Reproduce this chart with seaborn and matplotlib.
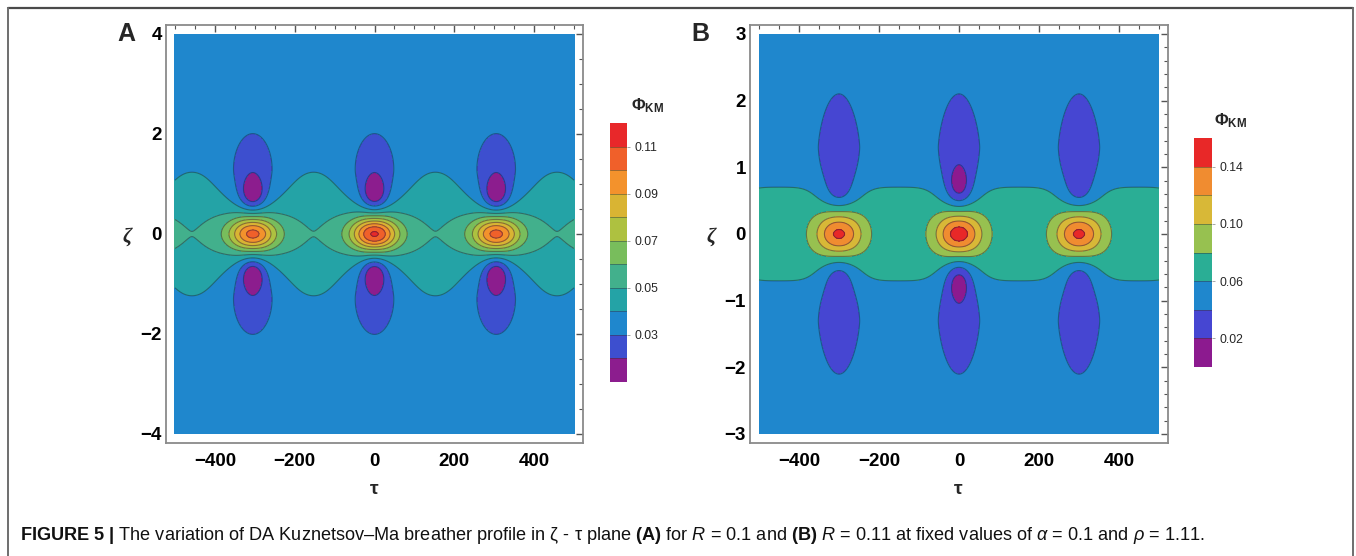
import numpy as np
import matplotlib
matplotlib.use("Agg")
import matplotlib.pyplot as plt
import seaborn as sns
from matplotlib.lines import Line2D
from matplotlib.ticker import MultipleLocator

W, H = 1356, 556

# ---------------- values ----------------
tau_limits = [-500, 500]
zeta_limits_A = [-4, 4]
zeta_limits_B = [-3, 3]

# panel A  (R = 0.1)
crest_tau_A = [-610, -305, 0, 305, 610]
crest_amp_A = [0.056, 0.056, 0.064, 0.056, 0.056]
hole_amp_A = [0.020, 0.020, 0.020, 0.020, 0.020]       # deep (purple) part of the side dips
background_A = 0.035
band_A = [0.0097, 1.67, 2.0, 95]       # amplitude, zeta width, exponent, tau gap at crests
crest_width_A = [58, 0.35]             # tau width, zeta width
halo_A = [0.0142, 135, 0.7, 3]         # amplitude, tau width, zeta width, tau exponent
lobe_A = [0.012, 62, 1.25, 0.82, 1.7]  # amplitude, tau width, zeta centre, zeta width, exponent
hole_shape_A = [30, 0.80, 0.33]        # tau width, zeta centre, zeta width
levels_A = [0.01, 0.02, 0.03, 0.04, 0.05, 0.06, 0.07, 0.08, 0.09, 0.10, 0.11, 0.12]
cbar_ticks_A = [0.03, 0.05, 0.07, 0.09, 0.11]
colors_A = ['#8c1d8e', '#3d4fcf', '#1f87cd', '#24a3a6', '#42b08c', '#78bd5c',
            '#aec140', '#d9b433', '#f3922c', '#f0602a', '#e8282a']

# panel B  (R = 0.11)
crest_tau_B = [-600, -300, 0, 300, 600]
crest_amp_B = [0.098, 0.098, 0.104, 0.098, 0.098]
hole_amp_B = [0.012, 0.012, 0.028, 0.012, 0.012]
background_B = 0.05
band_B = [0.02, 0.77, 4.0, 50]
crest_width_B = [56, 0.35]
halo_B = [0.0, 100, 0.6, 2]
lobe_B = [0.025, 54, 1.30, 0.85, 1.5]
hole_shape_B = [28, 0.74, 0.28]
levels_B = [0.00, 0.02, 0.04, 0.06, 0.08, 0.10, 0.12, 0.14, 0.16]
cbar_ticks_B = [0.02, 0.06, 0.10, 0.14]
colors_B = ['#8c1a8f', '#4646d2', '#1f87cd', '#2aae95', '#97c150', '#d8b837',
            '#f08c30', '#e82828']

caption = (r"$\mathbf{FIGURE\ 5\ |}$ The variation of DA Kuznetsov–Ma breather profile in "
           r"ζ - τ plane $\mathbf{(A)}$ for $\mathit{R}$ = 0.1 and $\mathbf{(B)}$ $\mathit{R}$ = 0.11 "
           r"at fixed values of $\mathit{α}$ = 0.1 and $\mathit{ρ}$ = 1.11.")

# ---------------- style ----------------
sns.set_theme(style="white")
plt.rcParams['font.family'] = ['Liberation Sans', 'DejaVu Sans']
plt.rcParams['mathtext.fontset'] = 'custom'
plt.rcParams['mathtext.rm'] = 'Liberation Sans'
plt.rcParams['mathtext.it'] = 'Liberation Sans:italic'
plt.rcParams['mathtext.bf'] = 'Liberation Sans:bold'


def field(tau, zeta, base, band, ctau, camp, cw, halo, lobe, hamp, hshape, levels):
    T, Z = np.meshgrid(tau, zeta)
    az = np.abs(Z)
    gap = np.zeros_like(T)
    for tk in ctau:
        gap = gap + np.exp(-((T - tk) / band[3]) ** 2)
    F = base + band[0] * np.clip(1 - gap, 0, 1) * np.exp(-(az / band[1]) ** band[2])
    for tk, a, d2 in zip(ctau, camp, hamp):
        dt = T - tk
        F = F + a * np.exp(-(dt / cw[0]) ** 2 - (Z / cw[1]) ** 2)
        F = F + halo[0] * np.exp(-np.abs(dt / halo[1]) ** halo[3] - (Z / halo[2]) ** 2)
        F = F - lobe[0] * np.exp(-(dt / lobe[1]) ** 2 - np.abs((az - lobe[2]) / lobe[3]) ** lobe[4])
        F = F - d2 * np.exp(-(dt / hshape[0]) ** 2 - ((az - hshape[1]) / hshape[2]) ** 2)
    eps = 1e-6
    return T, Z, np.clip(F, levels[0] + eps, levels[-1] - eps)


def px(x, y):
    return x / W, 1 - y / H


fig = plt.figure(figsize=(W / 100, H / 100), dpi=100)


def panel(frame, zlim, ymaj, ymin, base, band, ctau, camp, cw, halo, lobe, hamp, hshape,
          levels, colors, cbar_box, cticks, letter, letter_xy, zeta_xy, tau_xy, title_xy):
    l, t, r, b = frame
    ax = fig.add_axes([l / W, 1 - b / H, (r - l) / W, (b - t) / H])
    tau = np.linspace(tau_limits[0], tau_limits[1], 601)
    zeta = np.linspace(zlim[0], zlim[1], 601)
    T, Z, F = field(tau, zeta, base, band, ctau, camp, cw, halo, lobe, hamp, hshape, levels)
    pal = sns.color_palette(colors)
    cf = ax.contourf(T, Z, F, levels=levels, colors=pal)
    ax.contour(T, Z, F, levels=levels[1:-1], colors='#1b1b3a', linewidths=0.8, alpha=0.45)
    padx = 0.0225 * (tau_limits[1] - tau_limits[0])
    pady = 0.0225 * (zlim[1] - zlim[0])
    ax.set_xlim(tau_limits[0] - padx, tau_limits[1] + padx)
    ax.set_ylim(zlim[0] - pady, zlim[1] + pady)
    ax.xaxis.set_major_locator(MultipleLocator(200))
    ax.xaxis.set_minor_locator(MultipleLocator(50))
    ax.yaxis.set_major_locator(MultipleLocator(ymaj))
    ax.yaxis.set_minor_locator(MultipleLocator(ymin))
    ax.tick_params(which='both', direction='in', top=True, right=True, colors='#555555',
                   labelcolor='black', labelsize=13.5)
    ax.tick_params(which='major', length=5, width=1.0)
    ax.tick_params(which='minor', length=3, width=0.8)
    ax.tick_params(axis='x', pad=7)
    ax.tick_params(axis='y', pad=3)
    for lab in ax.get_xticklabels() + ax.get_yticklabels():
        lab.set_fontweight('bold')
    for s in ax.spines.values():
        s.set_color('#8a8a8a')
        s.set_linewidth(1.3)
        s.set_visible(True)
    ax.set_facecolor('white')

    cl, ct, cr, cb_ = cbar_box
    cax = fig.add_axes([cl / W, 1 - cb_ / H, (cr - cl) / W, (cb_ - ct) / H])
    cbar = fig.colorbar(cf, cax=cax, ticks=cticks, format='%.2f')
    cbar.outline.set_visible(False)
    for lv in levels[1:-1]:
        cax.axhline(lv, color='#333333', lw=0.7, alpha=0.45)
    cax.tick_params(length=2.5, width=0.6, color='#999999', pad=3, labelsize=8.8)

    fig.text(*px(*letter_xy), letter, fontsize=18, fontweight='bold', ha='center', va='center')
    fig.text(*px(*zeta_xy), 'ζ', fontsize=15, fontweight='bold', fontstyle='italic',
             family=['Liberation Serif', 'DejaVu Serif'], ha='center', va='center')
    fig.text(*px(*tau_xy), 'τ', fontsize=14, fontweight='bold', ha='center', va='center')
    fig.text(*px(*title_xy), r'$\mathbf{Φ}_{\mathbf{KM}}$', fontsize=12, ha='left', va='center')
    return ax


panel((166, 25, 583, 443), zeta_limits_A, 2, 0.5, background_A, band_A, crest_tau_A,
      crest_amp_A, crest_width_A, halo_A, lobe_A, hole_amp_A, hole_shape_A, levels_A, colors_A,
      (610, 123, 627, 382), cbar_ticks_A, 'A', (126, 34), (127, 237), (374, 489), (631, 106))

panel((750, 25, 1168, 443), zeta_limits_B, 1, 0.2, background_B, band_B, crest_tau_B,
      crest_amp_B, crest_width_B, halo_B, lobe_B, hole_amp_B, hole_shape_B, levels_B, colors_B,
      (1194, 138, 1212, 367), cbar_ticks_B, 'B', (700, 34), (711, 237), (958, 489), (1214, 121))

# outer box of the figure
lc = '#6e6e6e'
fig.add_artist(Line2D([8 / W, 1353 / W], [1 - 8 / H, 1 - 8 / H], color='#4a4a4a', lw=1.6))
fig.add_artist(Line2D([8 / W, 8 / W], [1 - 8 / H, 0], color=lc, lw=1.4))
fig.add_artist(Line2D([1353 / W, 1353 / W], [1 - 8 / H, 0], color=lc, lw=1.4))

fig.text(*px(20, 535), caption, fontsize=13.1, ha='left', va='center', color='#111111')

fig.savefig('out.png', dpi=100)
